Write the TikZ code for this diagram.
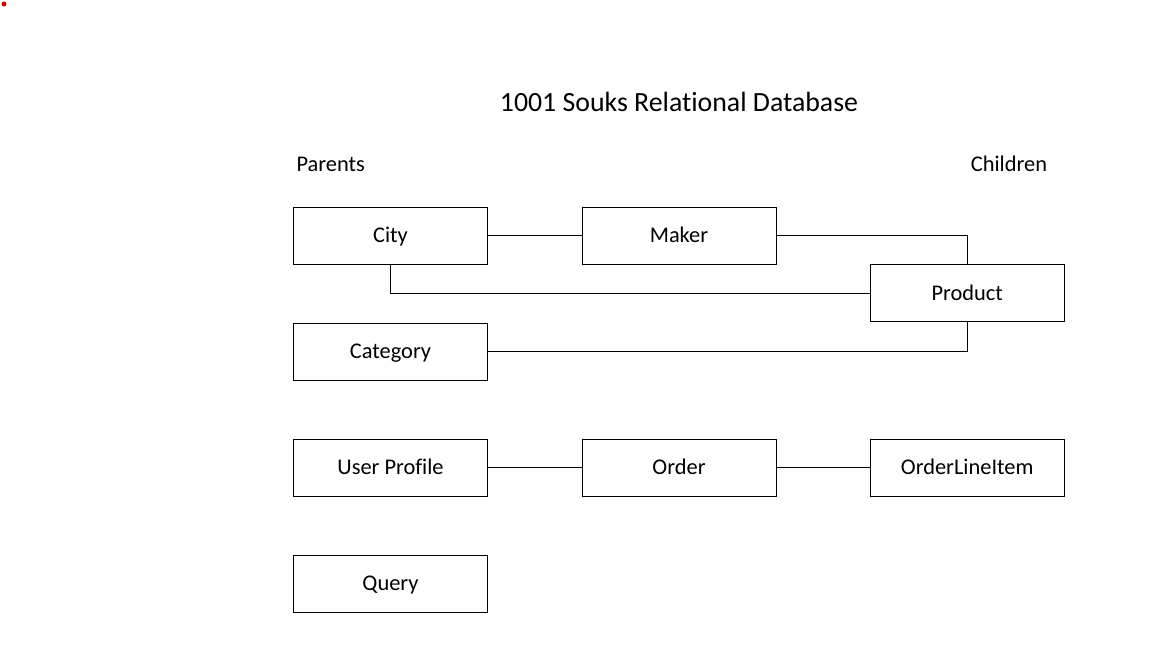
\documentclass[tikz,border=0pt]{standalone}
\usepackage{fontspec}
\setmainfont{Carlito}[Ligatures=NoCommon]
\usepackage{xcolor}
\usetikzlibrary{calc}

\begin{document}
\begin{tikzpicture}
    [x=1pt, y=-1pt,
    table/.style={rectangle, draw=black, line width=1pt, minimum width=194pt, minimum height=57pt, text height=14.3pt, text depth=0pt, font=\fontsize{22.4}{26}\selectfont},
    link/.style={draw=black, line width=1pt},
    heading/.style={text height=14.3pt, text depth=0pt, font=\fontsize{22.4}{26}\selectfont}]
    \useasboundingbox (0,0) rectangle (1150,650);
    \fill[red!85!black] (4,4) circle (2.5);
    \node(title)[text height=17.8pt, text depth=0pt, font=\fontsize{27.8}{32}\selectfont] at (679,103) {1001 Souks Relational Database};
    \node(parents)[heading,anchor=west] at (293,164) {Parents};
    \node(children)[heading] at (1009,164) {Children};
    \foreach \n/\x/\y/\t in {city/390.5/235.5/City,maker/679/235.5/Maker,product/967.2/293.3/Product,category/390.5/351.5/Category,user/390.5/467.5/User Profile,order/679/467.5/Order,lineitem/967.2/467.5/OrderLineItem,query/390.5/583.5/Query}{
        \node(\n)[table] at (\x,\y) {\t};
    }
    \draw[link] (city) -- (maker);
    \draw[link] (maker) -| (product);
    \draw[link] (city) |- (product);
    \draw[link] (category) -| (product);
    \draw[link] (user) -- (order);
    \draw[link] (order) -- (lineitem);
\end{tikzpicture}
\end{document}
